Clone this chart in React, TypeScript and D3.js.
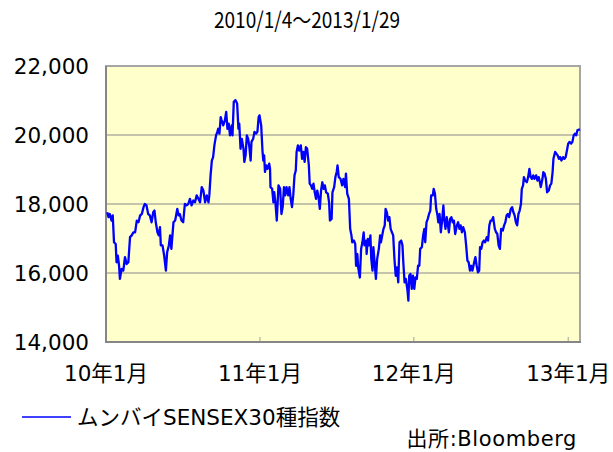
import React from 'react'
import * as d3 from 'd3'

type TRow = [string, number]

// Mumbai SENSEX 30 (approximate, roughly every 3-4 days)
const sensex2010: TRow[] = [
  ['2010-01-04', 17760], ['2010-01-07', 17620], ['2010-01-10', 17710], ['2010-01-14', 17520],
  ['2010-01-17', 17670], ['2010-01-20', 16890], ['2010-01-24', 16840], ['2010-01-26', 16310],
  ['2010-01-29', 16500], ['2010-02-01', 16210], ['2010-02-03', 15830], ['2010-02-07', 16120],
  ['2010-02-11', 16070], ['2010-02-15', 16460], ['2010-02-19', 16260], ['2010-02-23', 16310],
  ['2010-02-27', 17040], ['2010-03-03', 17090], ['2010-03-07', 17180], ['2010-03-11', 17180],
  ['2010-03-15', 17520], ['2010-03-19', 17470], ['2010-03-23', 17670], ['2010-03-27', 17710],
  ['2010-03-31', 17910], ['2010-04-03', 18000], ['2010-04-07', 17960], ['2010-04-11', 17710],
  ['2010-04-15', 17670], ['2010-04-19', 17470], ['2010-04-23', 17760], ['2010-04-26', 17810],
  ['2010-04-29', 17470], ['2010-05-03', 17180], ['2010-05-06', 17090], ['2010-05-09', 17330],
  ['2010-05-11', 16800], ['2010-05-15', 16800], ['2010-05-19', 16500], ['2010-05-23', 16070],
  ['2010-05-26', 16600], ['2010-05-30', 16800], ['2010-06-02', 17090], ['2010-06-05', 16700],
  ['2010-06-10', 17470], ['2010-06-14', 17520], ['2010-06-19', 17860], ['2010-06-22', 17670],
  ['2010-06-25', 17710], ['2010-06-29', 17520], ['2010-07-03', 17470], ['2010-07-07', 18000],
  ['2010-07-11', 17960], ['2010-07-15', 18000], ['2010-07-19', 18150], ['2010-07-23', 17960],
  ['2010-07-27', 18100], ['2010-07-31', 18050], ['2010-08-04', 18250], ['2010-08-08', 18150],
  ['2010-08-12', 18050], ['2010-08-16', 18490], ['2010-08-20', 18390], ['2010-08-24', 18050],
  ['2010-08-28', 18250], ['2010-09-01', 18050], ['2010-09-03', 18250], ['2010-09-06', 18830],
  ['2010-09-09', 19260], ['2010-09-12', 19360], ['2010-09-15', 19700], ['2010-09-19', 19990],
  ['2010-09-22', 20090], ['2010-09-24', 20180], ['2010-09-27', 20040], ['2010-09-30', 20520],
  ['2010-10-02', 20430], ['2010-10-06', 20280], ['2010-10-10', 20430], ['2010-10-13', 20670],
  ['2010-10-16', 20180], ['2010-10-19', 20330], ['2010-10-22', 19990], ['2010-10-26', 20280],
  ['2010-10-28', 19990], ['2010-10-31', 20960], ['2010-11-04', 21010], ['2010-11-08', 20910],
  ['2010-11-11', 20180], ['2010-11-13', 20330], ['2010-11-16', 19600], ['2010-11-19', 19890],
  ['2010-11-23', 19600], ['2010-11-25', 19220], ['2010-11-28', 19410], ['2010-12-01', 19990],
  ['2010-12-04', 19890], ['2010-12-07', 19650], ['2010-12-10', 19260], ['2010-12-12', 19800],
  ['2010-12-16', 19890], ['2010-12-19', 20090], ['2010-12-23', 20040], ['2010-12-26', 20090],
  ['2010-12-29', 20520], ['2010-12-31', 20570],
]

const sensex2011: TRow[] = [
  ['2011-01-04', 20280], ['2011-01-07', 19550], ['2011-01-09', 19260], ['2011-01-11', 19410],
  ['2011-01-13', 18930], ['2011-01-16', 19120], ['2011-01-19', 19020], ['2011-01-23', 19170],
  ['2011-01-25', 19020], ['2011-01-26', 18490], ['2011-01-30', 18440], ['2011-02-02', 18050],
  ['2011-02-04', 18340], ['2011-02-07', 18000], ['2011-02-10', 17520], ['2011-02-14', 18540],
  ['2011-02-18', 18440], ['2011-02-21', 17710], ['2011-02-24', 17910], ['2011-02-27', 18490],
  ['2011-03-02', 18250], ['2011-03-05', 18490], ['2011-03-09', 18250], ['2011-03-12', 18490],
  ['2011-03-15', 18150], ['2011-03-18', 17910], ['2011-03-21', 18250], ['2011-03-24', 18830],
  ['2011-03-27', 18970], ['2011-03-29', 19510], ['2011-04-01', 19700], ['2011-04-04', 19550],
  ['2011-04-08', 19700], ['2011-04-11', 19310], ['2011-04-14', 19510], ['2011-04-17', 19220],
  ['2011-04-20', 19650], ['2011-04-23', 19600], ['2011-04-27', 19120], ['2011-04-29', 18590],
  ['2011-05-02', 18540], ['2011-05-05', 18440], ['2011-05-08', 18590], ['2011-05-11', 18340],
  ['2011-05-14', 18150], ['2011-05-17', 18390], ['2011-05-20', 18200], ['2011-05-23', 17860],
  ['2011-05-26', 18390], ['2011-05-29', 18630], ['2011-06-01', 18440], ['2011-06-04', 18540],
  ['2011-06-07', 18340], ['2011-06-11', 18300], ['2011-06-14', 18050], ['2011-06-16', 17520],
  ['2011-06-20', 17570], ['2011-06-22', 18340], ['2011-06-26', 18490], ['2011-06-29', 18780],
  ['2011-07-02', 18930], ['2011-07-04', 19120], ['2011-07-07', 18780], ['2011-07-11', 18730],
  ['2011-07-15', 18540], ['2011-07-18', 18730], ['2011-07-22', 18490], ['2011-07-24', 18880],
  ['2011-07-27', 18300], ['2011-07-31', 18150], ['2011-08-03', 17280], ['2011-08-06', 17090],
  ['2011-08-08', 16890], ['2011-08-12', 16940], ['2011-08-15', 16840], ['2011-08-17', 16210],
  ['2011-08-20', 16550], ['2011-08-22', 16160], ['2011-08-26', 15870], ['2011-08-29', 16700],
  ['2011-09-01', 16890], ['2011-09-04', 17180], ['2011-09-06', 16800], ['2011-09-10', 16940],
  ['2011-09-11', 16550], ['2011-09-14', 16990], ['2011-09-17', 16800], ['2011-09-20', 17090],
  ['2011-09-22', 16410], ['2011-09-25', 16070], ['2011-09-27', 16750], ['2011-09-30', 16310],
  ['2011-10-03', 15830], ['2011-10-06', 16410], ['2011-10-10', 16700], ['2011-10-13', 17090],
  ['2011-10-15', 16890], ['2011-10-18', 17090], ['2011-10-21', 17280], ['2011-10-24', 17380],
  ['2011-10-26', 17860], ['2011-10-29', 17760], ['2011-11-01', 17520], ['2011-11-04', 17620],
  ['2011-11-07', 17280], ['2011-11-10', 17180], ['2011-11-13', 17090], ['2011-11-16', 16410],
  ['2011-11-19', 15920], ['2011-11-22', 16160], ['2011-11-25', 15730], ['2011-11-28', 16890],
  ['2011-12-02', 16940], ['2011-12-05', 16800], ['2011-12-07', 16310], ['2011-12-10', 15730],
  ['2011-12-13', 15830], ['2011-12-17', 15490], ['2011-12-19', 15200], ['2011-12-21', 15920],
  ['2011-12-24', 15970], ['2011-12-27', 15540], ['2011-12-30', 15920],
]

const sensex2012: TRow[] = [
  ['2012-01-02', 15540], ['2012-01-05', 15870], ['2012-01-08', 15830], ['2012-01-11', 16210],
  ['2012-01-14', 16210], ['2012-01-16', 16700], ['2012-01-20', 16750], ['2012-01-23', 17090],
  ['2012-01-26', 17280], ['2012-01-28', 16890], ['2012-01-31', 17470], ['2012-02-03', 17570],
  ['2012-02-06', 17710], ['2012-02-09', 17810], ['2012-02-11', 18250], ['2012-02-15', 18250],
  ['2012-02-17', 18440], ['2012-02-20', 18300], ['2012-02-23', 17860], ['2012-02-26', 17670],
  ['2012-02-28', 17470], ['2012-03-02', 17710], ['2012-03-05', 17180], ['2012-03-08', 17520],
  ['2012-03-11', 17960], ['2012-03-13', 17570], ['2012-03-16', 17280], ['2012-03-19', 17620],
  ['2012-03-22', 17380], ['2012-03-24', 17180], ['2012-03-27', 17570], ['2012-03-30', 17620],
  ['2012-04-02', 17470], ['2012-04-05', 17520], ['2012-04-08', 17130], ['2012-04-12', 17380],
  ['2012-04-15', 17470], ['2012-04-18', 17280], ['2012-04-21', 17380], ['2012-04-24', 17180],
  ['2012-04-27', 17330], ['2012-05-01', 17180], ['2012-05-04', 16800], ['2012-05-07', 16360],
  ['2012-05-10', 16310], ['2012-05-13', 16070], ['2012-05-16', 16210], ['2012-05-19', 16070],
  ['2012-05-23', 16310], ['2012-05-26', 16460], ['2012-05-29', 16210], ['2012-06-01', 16020],
  ['2012-06-04', 16070], ['2012-06-06', 16750], ['2012-06-09', 16700], ['2012-06-12', 16890],
  ['2012-06-15', 16940], ['2012-06-18', 16890], ['2012-06-22', 17040], ['2012-06-25', 16940],
  ['2012-06-28', 17380], ['2012-07-01', 17520], ['2012-07-04', 17520], ['2012-07-07', 17620],
  ['2012-07-11', 17280], ['2012-07-14', 17180], ['2012-07-17', 17130], ['2012-07-20', 16800],
  ['2012-07-23', 16700], ['2012-07-26', 17280], ['2012-07-30', 17230], ['2012-08-02', 17380],
  ['2012-08-05', 17470], ['2012-08-08', 17670], ['2012-08-11', 17710], ['2012-08-14', 17620],
  ['2012-08-18', 17860], ['2012-08-21', 17910], ['2012-08-24', 17760], ['2012-08-27', 17670],
  ['2012-08-30', 17470], ['2012-09-02', 17380], ['2012-09-05', 17710], ['2012-09-08', 17810],
  ['2012-09-11', 18000], ['2012-09-13', 18440], ['2012-09-16', 18540], ['2012-09-18', 18780],
  ['2012-09-21', 18680], ['2012-09-25', 18630], ['2012-09-28', 18780], ['2012-10-01', 19020],
  ['2012-10-04', 18780], ['2012-10-07', 18730], ['2012-10-10', 18830], ['2012-10-13', 18730],
  ['2012-10-17', 18830], ['2012-10-20', 18680], ['2012-10-23', 18780], ['2012-10-26', 18630],
  ['2012-10-28', 18490], ['2012-11-01', 18730], ['2012-11-03', 18920], ['2012-11-06', 18880],
  ['2012-11-09', 18730], ['2012-11-12', 18340], ['2012-11-16', 18390], ['2012-11-19', 18540],
  ['2012-11-22', 18590], ['2012-11-25', 18920], ['2012-11-27', 19310], ['2012-12-01', 19510],
  ['2012-12-04', 19460], ['2012-12-07', 19410], ['2012-12-10', 19310], ['2012-12-13', 19360],
  ['2012-12-16', 19260], ['2012-12-20', 19360], ['2012-12-23', 19310], ['2012-12-26', 19360],
  ['2012-12-29', 19550],
]

const sensex2013: TRow[] = [
  ['2013-01-01', 19750], ['2013-01-04', 19800], ['2013-01-08', 19750], ['2013-01-11', 19800],
  ['2013-01-14', 19990], ['2013-01-17', 20040], ['2013-01-20', 19990], ['2013-01-23', 20140],
  ['2013-01-29', 20160],
]

const yTicks = [14000, 16000, 18000, 20000, 22000]
const xTicks = ['2010-01-01', '2011-01-01', '2012-01-01', '2013-01-01']
const xTickLabels = ['10年1月', '11年1月', '12年1月', '13年1月']
const title = '2010/1/4～2013/1/29'
const seriesLabel = 'ムンバイSENSEX30種指数'
const source = '出所:Bloomberg'

const W = 613
const H = 452
const plot = { left: 106, right: 580, top: 66, bottom: 342 }
const font = "'DejaVu Sans', 'Noto Sans CJK JP', sans-serif"

const parse = d3.timeParse('%Y-%m-%d')

const App = () => {
  const rows = [...sensex2010, ...sensex2011, ...sensex2012, ...sensex2013].map(
    ([d, v]) => ({ date: parse(d) as Date, value: v }),
  )
  const x = d3
    .scaleTime()
    .domain([parse('2010-01-01') as Date, parse('2013-01-29') as Date])
    .range([plot.left, plot.right])
  const y = d3.scaleLinear().domain([14000, 22000]).range([plot.bottom, plot.top])
  const line = d3
    .line<{ date: Date; value: number }>()
    .x(d => x(d.date))
    .y(d => y(d.value))
  const fmt = d3.format(',')

  return (
    <svg
      width={W}
      height={H}
      style={{ position: 'absolute', left: 0, top: 0, background: '#fff' }}
    >
      <text
        x={307}
        y={28}
        textAnchor='middle'
        fontFamily="'Noto Sans CJK JP', sans-serif"
        fontSize={22}
        textLength={186}
        lengthAdjust='spacingAndGlyphs'
        fill='#000'
      >
        {title}
      </text>

      <rect
        x={plot.left}
        y={plot.top}
        width={plot.right - plot.left}
        height={plot.bottom - plot.top}
        fill='#FFFFCC'
        stroke='#a6a6a6'
        strokeWidth={2}
      />
      {yTicks.slice(1, -1).map(t => (
        <line
          key={t}
          x1={plot.left}
          x2={plot.right}
          y1={y(t)}
          y2={y(t)}
          stroke='#8a8a8a'
          strokeWidth={1.2}
        />
      ))}
      {xTicks.slice(1).map(t => (
        <line
          key={t}
          x1={x(parse(t) as Date)}
          x2={x(parse(t) as Date)}
          y1={plot.bottom - 5}
          y2={plot.bottom}
          stroke='#a0a0a0'
          strokeWidth={1}
        />
      ))}
      <line
        x1={plot.left}
        x2={plot.left}
        y1={plot.top}
        y2={plot.bottom + 1}
        stroke='#868686'
        strokeWidth={2}
      />
      <line
        x1={plot.left - 1}
        x2={plot.right + 1}
        y1={plot.bottom}
        y2={plot.bottom}
        stroke='#868686'
        strokeWidth={2}
      />

      <path
        d={line(rows) || ''}
        fill='none'
        stroke='#0000FF'
        strokeWidth={2.3}
        strokeLinejoin='round'
      />

      {yTicks.map(t => (
        <text
          key={t}
          x={89}
          y={y(t)}
          dy='0.36em'
          textAnchor='end'
          fontFamily={font}
          fontSize={21.5}
          fill='#000'
        >
          {fmt(t)}
        </text>
      ))}
      {xTicks.map((t, i) => (
        <text
          key={t}
          x={x(parse(t) as Date)}
          y={381}
          textAnchor='middle'
          fontFamily={font}
          fontSize={21.5}
          fill='#000'
        >
          {xTickLabels[i]}
        </text>
      ))}

      <line x1={22} x2={71} y1={417} y2={417} stroke='#0000FF' strokeWidth={1.5} />
      <text x={77} y={425} fontFamily={font} fontSize={21.5} fill='#000'>
        {seriesLabel}
      </text>
      <text
        x={577}
        y={446}
        textAnchor='end'
        fontFamily={font}
        fontSize={21}
        letterSpacing={0.6}
        fill='#000'
      >
        {source}
      </text>
    </svg>
  )
}

export default App
